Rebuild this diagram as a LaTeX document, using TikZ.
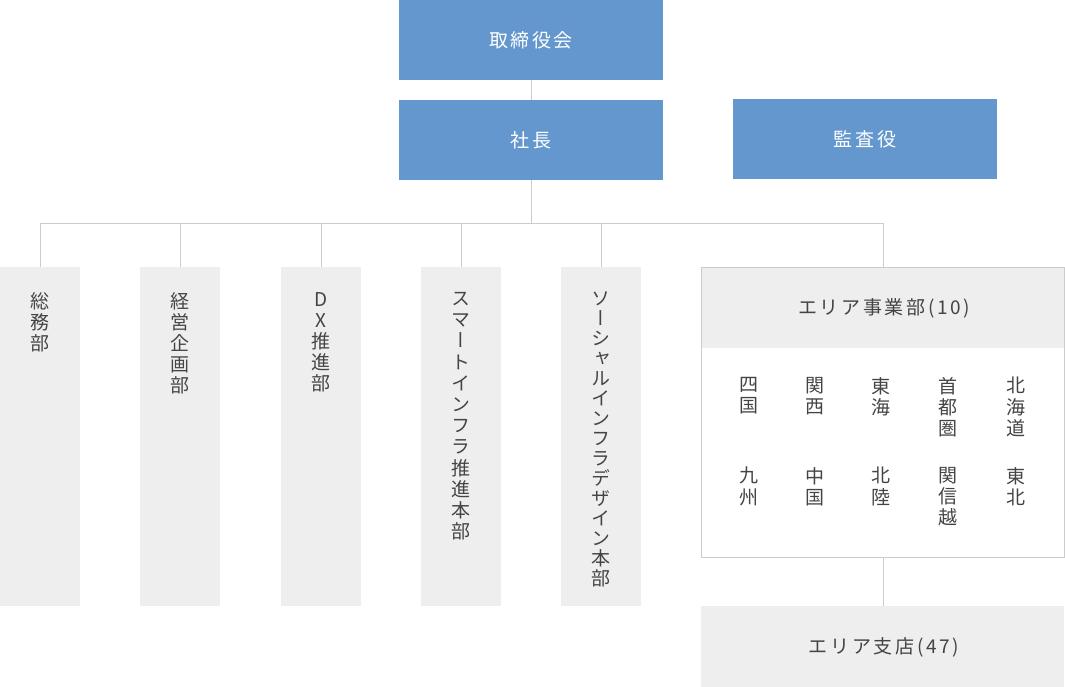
\documentclass[tikz,border=0pt]{standalone}
\usepackage{fontspec}
\newfontfamily\jp[LetterSpace=14]{Noto Sans CJK JP}
\newfontfamily\jpv[RawFeature=+vert]{Noto Sans CJK JP}
\definecolor{blu}{HTML}{6397CD}
\definecolor{lgray}{HTML}{EEEEEE}
\definecolor{lline}{HTML}{CCCCCC}
\definecolor{tgray}{HTML}{444444}
\begin{document}
\begin{tikzpicture}[x=1pt,y=-1pt,
  bluebox/.style={fill=blu, draw=none, minimum width=264pt, minimum height=80pt, inner sep=0pt, text=white, font=\jp\fontsize{19}{22}\selectfont},
  deptbox/.style={fill=lgray, draw=none, minimum width=80pt, minimum height=339pt, inner sep=0pt, anchor=north west},
  vtext/.style={font=\jpv\fontsize{19}{21.2}\selectfont, text=tgray, align=center, anchor=north, inner sep=0pt},
  htext/.style={font=\jp\fontsize{19}{22}\selectfont, text=tgray, inner sep=0pt},
  conn/.style={draw=lline, line width=1pt}
]
\useasboundingbox (0,0) rectangle (1065,687);

% top
\node[bluebox] (board) at (531,40) {取締役会};
\node[bluebox] (pres) at (531,140) {社長};
\node[bluebox] (audit) at (865,139) {監査役};

% departments
\node[deptbox] (d1) at (0,267) {};
\node[deptbox] (d2) at (140,267) {};
\node[deptbox] (d3) at (281,267) {};
\node[deptbox] (d4) at (421,267) {};
\node[deptbox] (d5) at (561,267) {};

\node[vtext] (t1) at (40,292) {総\\務\\部};
\node[vtext] (t2) at (180,292) {経\\営\\企\\画\\部};
\node[vtext] (t3) at (321,292) {D\\X\\推\\進\\部};
\node[vtext] (t4) at (461,292) {ス\\マ\\ー\\ト\\イ\\ン\\フ\\ラ\\推\\進\\本\\部};
\node[vtext, font=\jpv\fontsize{19}{20}\selectfont] (t5) at (601,292) {ソ\\ー\\シ\\ャ\\ル\\イ\\ン\\フ\\ラ\\デ\\ザ\\イ\\ン\\本\\部};

% area division
\node[fill=lgray, draw=none, minimum width=363pt, minimum height=81pt, inner sep=0pt, anchor=north west] (areahead) at (701,267) {};
\node[draw=lline, line width=1pt, minimum width=363pt, minimum height=290pt, inner sep=0pt, anchor=north west] (area) at (701,267) {};
\node[htext] (areatitle) at (884,308) {エリア事業部(10)};

\node[vtext] (r1) at (749,377) {四\\国};
\node[vtext] (r2) at (815,377) {関\\西};
\node[vtext] (r3) at (881,377) {東\\海};
\node[vtext] (r4) at (948,377) {首\\都\\圏};
\node[vtext] (r5) at (1016,377) {北\\海\\道};
\node[vtext] (r6) at (749,467) {九\\州};
\node[vtext] (r7) at (815,467) {中\\国};
\node[vtext] (r8) at (881,467) {北\\陸};
\node[vtext] (r9) at (948,467) {関\\信\\越};
\node[vtext] (r10) at (1016,467) {東\\北};

\node[fill=lgray, draw=none, minimum width=363pt, minimum height=81pt, inner sep=0pt, anchor=north west] (branch) at (701,606) {};
\node[htext] (branchtitle) at (884,647) {エリア支店(47)};

% connectors
\draw[conn] (board.south) -- (pres.north);
\foreach \c in {d1,d2,d3,d4,d5,area}
  \draw[conn] (pres.south) -- ++(0,43) -| (\c.north);
\draw[conn] (area.south) -- (area.south |- branch.north);
\end{tikzpicture}
\end{document}
